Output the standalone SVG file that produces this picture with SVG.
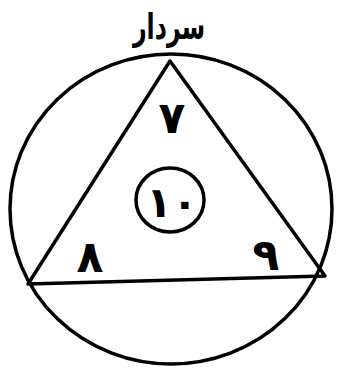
<svg xmlns="http://www.w3.org/2000/svg" width="340" height="373" viewBox="0 0 340 373">
<style>
.ln{fill:none;stroke:#000;stroke-width:3.5;stroke-linejoin:round}
.t{font-family:"DejaVu Sans",sans-serif;fill:#000;text-anchor:middle;font-weight:bold}
</style>
<rect width="340" height="373" fill="#fff"/>
<g id="outer-circle"><ellipse class="ln" cx="171" cy="209" rx="161" ry="155"/></g>
<g id="connectors"><polygon class="ln" points="170,61 28,284 325,276"/></g>
<g id="title"><text class="t" x="169" y="39" font-size="36" transform="translate(169 0) scale(0.66 1) translate(-169 0)">سردار</text></g>
<g id="n7"><text class="t" x="172" y="133" font-size="44">٧</text></g>
<g id="n8"><text class="t" x="90" y="272" font-size="44">٨</text></g>
<g id="n9"><text class="t" x="266" y="270" font-size="44">٩</text></g>
<g id="n10"><ellipse class="ln" cx="170" cy="200" rx="34" ry="32"/><text class="t" x="172" y="217" font-size="42">١٠</text></g>
</svg>
